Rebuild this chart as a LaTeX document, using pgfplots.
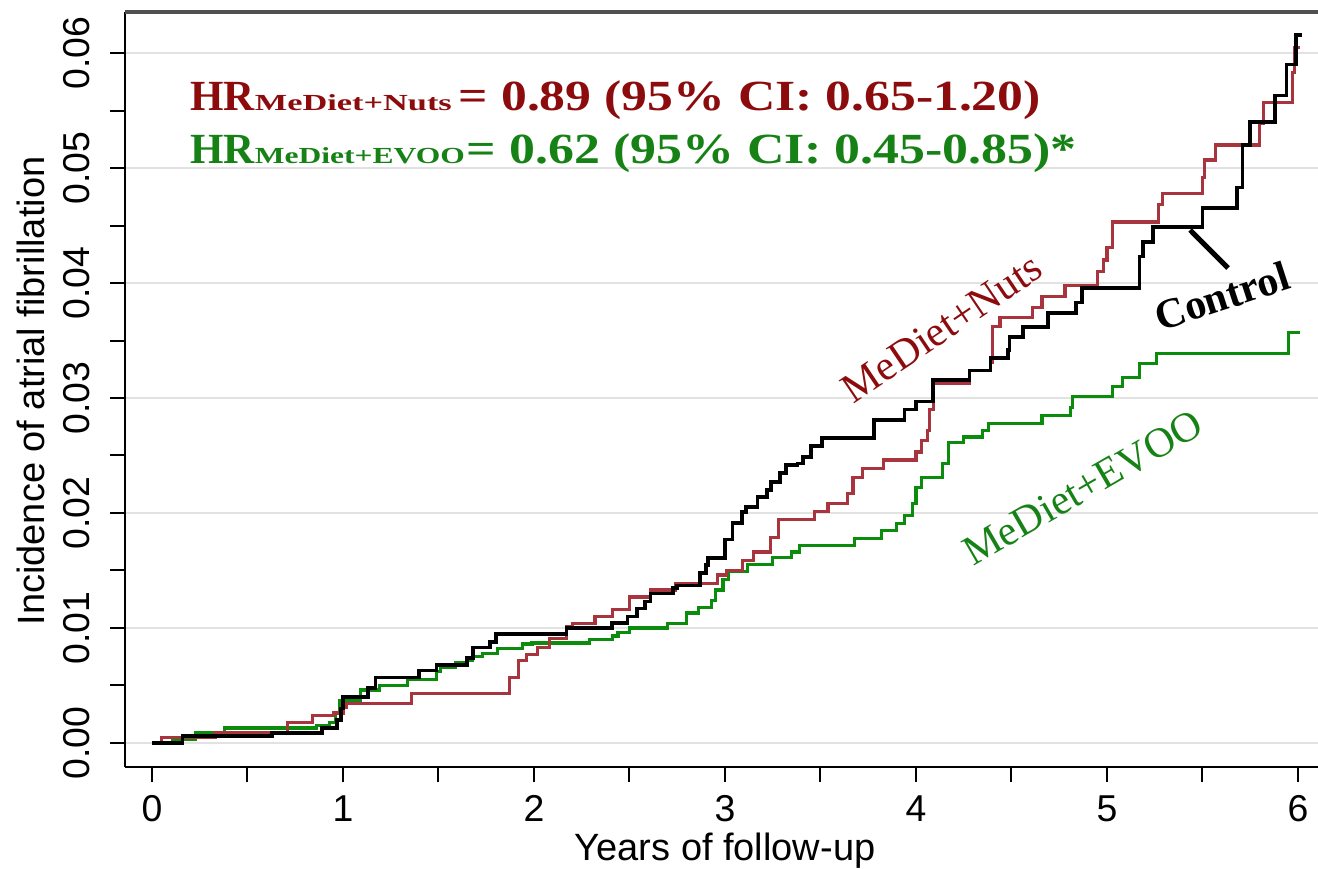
\documentclass[border=0pt]{standalone}
\usepackage{pgfplots}
\pgfplotsset{compat=1.18}
\usepackage{graphicx}
\usepackage{fontspec}
\setmainfont{Liberation Sans}
\newfontfamily\annfont{Liberation Serif}

\definecolor{nutsline}{RGB}{168,52,62}
\definecolor{nutstext}{RGB}{140,12,14}
\definecolor{evooline}{RGB}{12,140,12}
\definecolor{evootext}{RGB}{22,130,22}
\definecolor{gridgray}{RGB}{226,226,226}
\definecolor{framegray}{RGB}{80,80,80}

% Kaplan-Meier cumulative incidence, step starts (years, incidence)
\pgfplotstableread{
x y
0.00 0.0000
0.16 0.0006
0.63 0.0009
0.89 0.0013
0.97 0.0020
0.99 0.0030
1.00 0.0040
1.13 0.0048
1.17 0.0057
1.40 0.0063
1.49 0.0068
1.65 0.0074
1.68 0.0083
1.77 0.0088
1.80 0.0095
2.17 0.0100
2.41 0.0104
2.49 0.0110
2.54 0.0117
2.58 0.0123
2.61 0.0130
2.73 0.0135
2.75 0.0137
2.87 0.0148
2.90 0.0155
2.91 0.0161
3.00 0.0177
3.04 0.0191
3.09 0.0201
3.11 0.0205
3.17 0.0214
3.22 0.0220
3.24 0.0227
3.29 0.0235
3.32 0.0242
3.38 0.0243
3.41 0.0249
3.45 0.0258
3.51 0.0265
3.78 0.0281
3.94 0.0290
4.00 0.0297
4.09 0.0316
4.28 0.0324
4.39 0.0335
4.48 0.0342
4.49 0.0353
4.56 0.0362
4.69 0.0374
4.84 0.0383
4.87 0.0396
5.17 0.0423
5.19 0.0436
5.24 0.0449
5.50 0.0465
5.68 0.0483
5.71 0.0520
5.75 0.0540
5.88 0.0563
5.94 0.0590
5.99 0.0616
6.02 0.0616
}\control

\pgfplotstableread{
x y
0.00 0.0000
0.05 0.0005
0.33 0.0009
0.71 0.0018
0.84 0.0024
0.95 0.0026
1.00 0.0031
1.02 0.0034
1.36 0.0043
1.87 0.0057
1.92 0.0072
1.96 0.0077
2.02 0.0083
2.08 0.0091
2.17 0.0101
2.20 0.0104
2.32 0.0110
2.41 0.0116
2.50 0.0127
2.61 0.0133
2.74 0.0139
2.96 0.0146
3.01 0.0150
3.09 0.0159
3.15 0.0166
3.24 0.0179
3.28 0.0194
3.47 0.0201
3.54 0.0208
3.64 0.0217
3.67 0.0231
3.72 0.0239
3.83 0.0246
4.00 0.0253
4.03 0.0263
4.06 0.0272
4.07 0.0290
4.09 0.0313
4.28 0.0324
4.39 0.0331
4.40 0.0362
4.44 0.0370
4.61 0.0379
4.66 0.0388
4.78 0.0398
4.95 0.0410
4.98 0.0420
5.00 0.0431
5.03 0.0453
5.27 0.0468
5.29 0.0478
5.50 0.0492
5.51 0.0507
5.57 0.0520
5.80 0.0539
5.82 0.0557
5.97 0.0583
5.98 0.0605
6.01 0.0605
}\nuts

\pgfplotstableread{
x y
0.00 0.0000
0.11 0.0003
0.23 0.0009
0.38 0.0013
0.86 0.0015
0.93 0.0018
0.96 0.0026
0.98 0.0037
1.09 0.0046
1.19 0.0050
1.34 0.0055
1.49 0.0062
1.51 0.0066
1.59 0.0070
1.65 0.0072
1.68 0.0075
1.73 0.0078
1.81 0.0082
1.94 0.0086
1.99 0.0087
2.29 0.0090
2.41 0.0093
2.44 0.0096
2.50 0.0100
2.70 0.0104
2.80 0.0113
2.86 0.0118
2.93 0.0124
2.95 0.0133
2.99 0.0142
3.02 0.0149
3.12 0.0155
3.25 0.0161
3.35 0.0166
3.39 0.0172
3.68 0.0178
3.82 0.0185
3.90 0.0191
3.94 0.0198
3.98 0.0208
4.00 0.0222
4.03 0.0231
4.14 0.0243
4.17 0.0261
4.25 0.0266
4.35 0.0272
4.38 0.0278
4.66 0.0285
4.81 0.0292
4.82 0.0301
5.03 0.0310
5.08 0.0318
5.17 0.0330
5.26 0.0339
5.95 0.0357
6.01 0.0357
}\evoo

\begin{document}
\begin{tikzpicture}
\useasboundingbox (-62.5pt,-50.5pt) rectangle (596.5pt,383.5pt);
\begin{axis}[
  name=main,
  at={(0,0)}, anchor=south west,
  scale only axis, width=596.5pt, height=377.5pt,
  xmin=-0.141, xmax=6.105, ymin=-0.00209, ymax=0.06357,
  clip=false,
  scaled y ticks=false,
  axis x line*=bottom, axis y line*=left,
  axis line style={-, black, line width=1.3pt},
  xtick={0,1,2,3,4,5,6},
  minor xtick={0.5,1.5,2.5,3.5,4.5,5.5},
  ytick={0,0.01,0.02,0.03,0.04,0.05,0.06},
  yticklabels={0.00,0.01,0.02,0.03,0.04,0.05,0.06},
  minor ytick={0.005,0.015,0.025,0.035,0.045,0.055},
  tick align=outside,
  major tick length=7.5pt, minor tick length=7.5pt,
  tick style={black, line width=1pt},
  ymajorgrids,
  major grid style={gridgray, line width=1.4pt},
  /pgf/number format/assume math mode=true,
  tick label style={font=\fontsize{18.7}{20}\selectfont, inner sep=0pt},
  xticklabel style={anchor=north},
  xticklabel shift=6.5pt,
  yticklabel style={rotate=90, anchor=south},
  yticklabel shift=10pt,
  xlabel={Years of follow-up},
  ylabel={Incidence of atrial fibrillation},
  label style={font=\fontsize{19}{22}\selectfont, inner sep=0pt},
  xlabel style={at={([yshift=-46.5pt]axis description cs:0.503,0)}, anchor=base},
  ylabel style={at={([xshift=-40pt]axis description cs:0,0.498)}, anchor=base},
]
\addplot[const plot, evooline, line width=1.6pt] table {\evoo};
\addplot[const plot, nutsline, line width=1.6pt] table {\nuts};
\addplot[const plot, black, line width=1.9pt] table {\control};

\node[anchor=base west, inner sep=0pt, text=nutstext,
      font=\annfont\bfseries\fontsize{21.5}{24}\selectfont]
  at (axis cs:0.199,0.05504)
  {HR\resizebox{98.5pt}{\height}{\fontsize{11.5}{12}\selectfont MeDiet+Nuts}\hspace{3.5pt}\resizebox{291pt}{\height}{= 0.89 (95\% CI: 0.65-1.20)}};
\node[anchor=base west, inner sep=0pt, text=evootext,
      font=\annfont\bfseries\fontsize{21.5}{24}\selectfont]
  at (axis cs:0.199,0.05043)
  {HR\resizebox{105pt}{\height}{\fontsize{11.5}{12}\selectfont MeDiet+EVOO}\hspace{1pt}\resizebox{305pt}{\height}{= 0.62 (95\% CI: 0.45-0.85)*}};

\node[rotate=34, text=nutstext, inner sep=0pt,
      font=\annfont\fontsize{21}{24}\selectfont]
  at (axis cs:4.136,0.03609) {MeDiet+Nuts};
\node[rotate=30, text=evootext, inner sep=0pt,
      font=\annfont\fontsize{21}{24}\selectfont]
  at (axis cs:4.874,0.02217) {MeDiet+EVOO};
\node[rotate=18, text=black, inner sep=0pt,
      font=\annfont\bfseries\fontsize{21}{24}\selectfont]
  at (axis cs:5.602,0.03887) {Control};
\draw[black, line width=2.5pt] (axis cs:5.435,0.04461) -- (axis cs:5.634,0.0413);
\end{axis}
% upper frame line of the plot region
\draw[framegray, line width=1.8pt] (0pt,377.5pt) -- (596.5pt,377.5pt);
\end{tikzpicture}
\end{document}
